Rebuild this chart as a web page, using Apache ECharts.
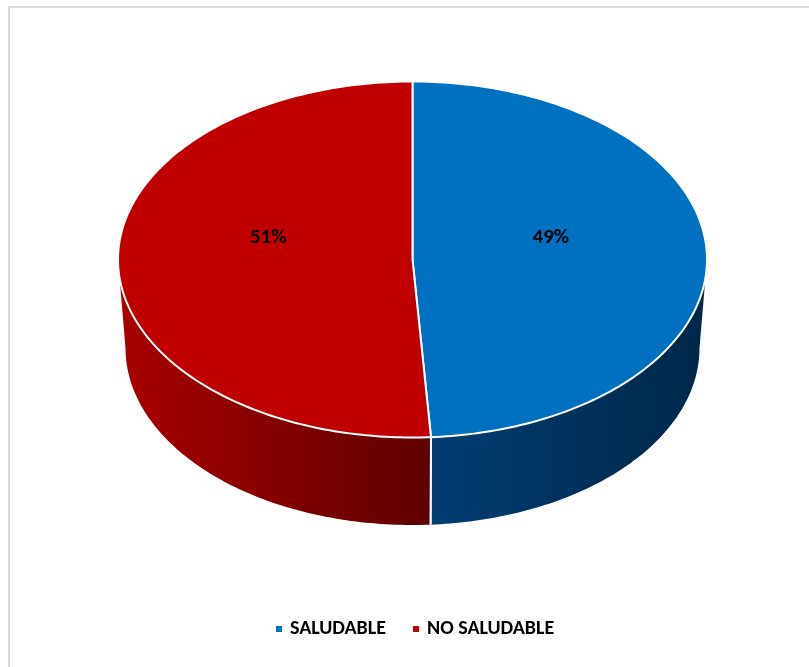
<!DOCTYPE html>
<html>
<head>
<meta charset="utf-8">
<script src="https://cdn.jsdelivr.net/npm/echarts@6/dist/echarts.min.js"></script>
<style>
  html, body { margin: 0; padding: 0; background: #fff; }
  #chart { width: 809px; height: 667px; }
</style>
</head>
<body>
<div id="chart"></div>
<script>
// Categories and their shares (percent)
const categories = ['SALUDABLE', 'NO SALUDABLE'];
const shares = [49, 51];
const shareLabels = ['49%', '51%'];

const topColors = ['#0070C0', '#C00000'];
const wallShades = [['#003d72', '#002749'], ['#a80000', '#5f0000']];
const FONT = 'Carlito, "Liberation Sans Narrow", Lato, sans-serif';

// Disc geometry: top ellipse and (slightly narrower) bottom ellipse
const disc = { cx: 412.5, cy: 259.5, rx: 294.5, ry: 178, bcx: 412.5, bcy: 348, brx: 287, bry: 177 };
const total = shares.reduce((a, b) => a + b, 0);

// Angles measured clockwise from 12 o'clock
function sliceAngles(i) {
  let start = 0;
  for (let k = 0; k < i; k++) start += shares[k];
  return [start / total * 2 * Math.PI, (start + shares[i]) / total * 2 * Math.PI];
}
function topPt(t) { return [disc.cx + disc.rx * Math.sin(t), disc.cy - disc.ry * Math.cos(t)]; }
function botPt(t) { return [disc.bcx + disc.brx * Math.sin(t), disc.bcy - disc.bry * Math.cos(t)]; }
function arcPts(fn, a, b) {
  const n = Math.max(8, Math.ceil(Math.abs(b - a) / (Math.PI / 180)));
  const pts = [];
  for (let s = 0; s <= n; s++) pts.push(fn(a + (b - a) * s / n));
  return pts;
}

// Side walls: only the front half (90°..270°) is visible
function renderWall(params) {
  const i = params.dataIndex;
  const [a0, a1] = sliceAngles(i);
  const a = Math.max(a0, Math.PI / 2);
  const b = Math.min(a1, Math.PI * 1.5);
  if (b <= a) return null;
  const upper = arcPts(topPt, a, b);
  const lower = arcPts(botPt, a, b).reverse();
  const xs = upper.concat(lower).map(p => p[0]);
  const x0 = Math.min.apply(null, xs), x1 = Math.max.apply(null, xs);
  const children = [{
    type: 'polygon',
    shape: { points: upper.concat(lower) },
    style: {
      fill: new echarts.graphic.LinearGradient(x0, 0, x1, 0, [
        { offset: 0, color: wallShades[i][0] },
        { offset: 1, color: wallShades[i][1] }
      ], true),
      stroke: null
    }
  }];
  // white seam where slices meet on the wall
  [a0, a1].forEach(t => {
    if (t > Math.PI / 2 && t < Math.PI * 1.5) {
      const p = topPt(t), q = botPt(t);
      children.push({
        type: 'line',
        shape: { x1: p[0], y1: p[1], x2: q[0], y2: q[1] },
        style: { stroke: '#ffffff', lineWidth: 2 }
      });
    }
  });
  return { type: 'group', children };
}

// Top face of one slice plus its percentage label
function makeTopRenderer(i) {
  return function () {
    const [a0, a1] = sliceAngles(i);
    const pts = [[disc.cx, disc.cy]].concat(arcPts(topPt, a0, a1));
    const mid = (a0 + a1) / 2;
    const lx = disc.cx + 0.48 * disc.rx * Math.sin(mid);
    const ly = disc.cy - 22;
    return {
      type: 'group',
      children: [{
        type: 'polygon',
        shape: { points: pts },
        style: { fill: topColors[i], stroke: '#ffffff', lineWidth: 2, lineJoin: 'round' }
      }, {
        type: 'text',
        z2: 10,
        style: {
          text: shareLabels[i], x: lx - 3, y: ly,
          align: 'center', verticalAlign: 'middle',
          font: 'bold 21px ' + FONT, fill: '#000000'
        }
      }]
    };
  };
}

const chart = echarts.init(document.getElementById('chart'), null, { renderer: 'canvas' });

const series = [{
  type: 'custom',
  name: 'walls',
  coordinateSystem: 'none',
  silent: true,
  z: 2,
  data: shares,
  renderItem: renderWall
}];
categories.forEach((name, i) => {
  series.push({
    type: 'custom',
    name: name,
    coordinateSystem: 'none',
    silent: true,
    z: 3,
    itemStyle: { color: topColors[i] },
    data: [shares[i]],
    renderItem: makeTopRenderer(i)
  });
});

chart.setOption({
  animation: false,
  backgroundColor: '#ffffff',
  graphic: [{
    type: 'rect',
    shape: { x: 9, y: 7, width: 1000, height: 1000 },
    style: { fill: null, stroke: '#d9d9d9', lineWidth: 2 },
    silent: true,
    z: 0
  }],
  legend: {
    data: categories,
    selectedMode: false,
    left: 271,
    top: 614,
    icon: 'rect',
    itemWidth: 6,
    itemHeight: 6,
    itemGap: 27,
    textStyle: { fontSize: 20, fontWeight: 'bold', color: '#000000', fontFamily: FONT, padding: [0, 0, 0, 3] }
  },
  series: series
});
</script>
</body>
</html>
